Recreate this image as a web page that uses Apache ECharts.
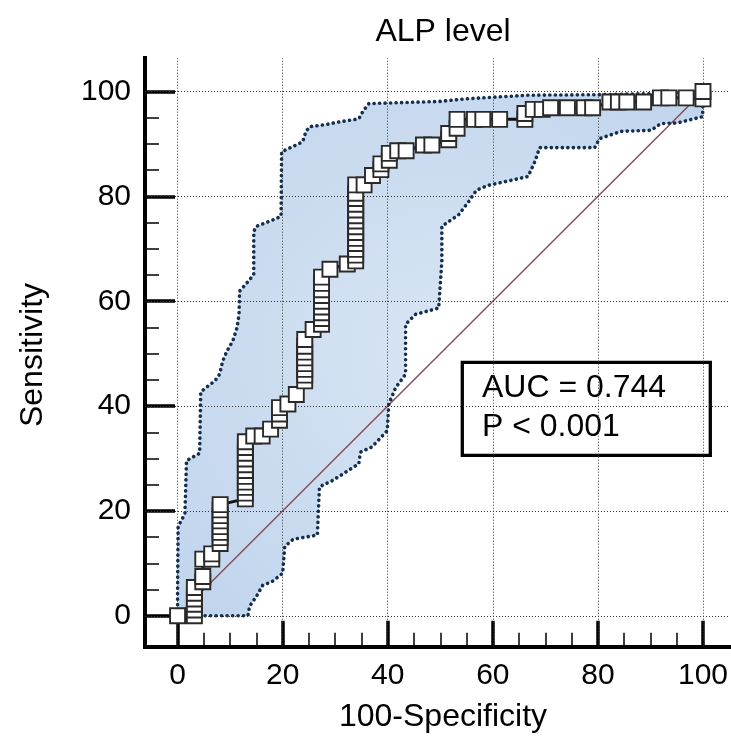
<!DOCTYPE html>
<html>
<head>
<meta charset="utf-8">
<script src="https://cdn.jsdelivr.net/npm/echarts@6/dist/echarts.min.js"></script>
<style>
html,body{margin:0;padding:0;background:#fff;}
#chart{width:731px;height:740px;}
</style>
</head>
<body>
<div id="chart"></div>
<script>
// ---- data ----
var titleText = 'ALP level';
var xName = '100-Specificity';
var yName = 'Sensitivity';
var aucLines = ['AUC = 0.744', 'P < 0.001'];

var xMajorTicks = [0, 20, 40, 60, 80, 100];
var xMinorTicks = [5, 10, 15, 25, 30, 35, 45, 50, 55, 65, 70, 75, 85, 90, 95];
var yMajorTicks = [0, 20, 40, 60, 80, 100];
var yMinorTicks = [5, 10, 15, 25, 30, 35, 45, 50, 55, 65, 70, 75, 85, 90, 95];

// ROC curve points [100-specificity, sensitivity]
var rocPoints = [
  [0, 0],
  [3.2, 0], [3.2, 1.1], [3.2, 2.2], [3.2, 3.2], [3.2, 4.3], [3.2, 5.4],
  [4.8, 6.5], [4.8, 7.5], [4.8, 10.8],
  [6.5, 10.8], [6.5, 11.8],
  [8.1, 13.8], [8.1, 14.9], [8.1, 15.9], [8.1, 17.0], [8.1, 18.1], [8.1, 19.1], [8.1, 20.2], [8.1, 21.2],
  [12.9, 22.3], [12.9, 23.4], [12.9, 24.5], [12.9, 25.5], [12.9, 26.6], [12.9, 27.7], [12.9, 28.8], [12.9, 29.9], [12.9, 31.0], [12.9, 32.1], [12.9, 33.2],
  [14.5, 34.3], [16.1, 34.3], [17.7, 35.6],
  [19.4, 37.3], [19.4, 38.5], [19.4, 39.7],
  [21.0, 40.4], [22.6, 42.2],
  [24.2, 44.8], [24.2, 45.9], [24.2, 47.0], [24.2, 48.1], [24.2, 49.2], [24.2, 50.3], [24.2, 51.4], [24.2, 52.7],
  [25.8, 54.6],
  [27.4, 55.6], [27.4, 56.7], [27.4, 57.8], [27.4, 58.9], [27.4, 60.0], [27.4, 61.1], [27.4, 62.2], [27.4, 63.4], [27.4, 64.6],
  [29.0, 66.1], [32.3, 67.1],
  [33.9, 67.7], [33.9, 68.8], [33.9, 69.9], [33.9, 71.0], [33.9, 72.0], [33.9, 73.1], [33.9, 74.2], [33.9, 75.3], [33.9, 76.3], [33.9, 77.4], [33.9, 78.5], [33.9, 79.6], [33.9, 80.6], [33.9, 82.2],
  [35.5, 82.2], [37.1, 84.0],
  [38.7, 85.1], [38.7, 86.2],
  [40.3, 86.9], [40.3, 88.2],
  [41.9, 88.7], [43.5, 88.7],
  [46.8, 89.8], [48.4, 89.8],
  [51.6, 90.8], [51.6, 92.0],
  [53.2, 93.0], [53.2, 94.7],
  [56.5, 94.7], [58.1, 94.7], [61.3, 94.7],
  [66.1, 94.7], [66.1, 95.8],
  [67.7, 96.6], [69.4, 96.6], [71.0, 96.9], [74.2, 96.9], [77.4, 96.9], [79.0, 96.9],
  [82.3, 98.0], [83.9, 98.0], [85.5, 98.0], [88.7, 98.0],
  [91.9, 98.8], [93.5, 98.8], [96.8, 98.8],
  [100, 98.6], [100, 100]
];

// upper 95% confidence bound
var upperBand = [
  [0, 0], [0, 5], [0.1, 17.0], [1.4, 19.5], [1.7, 29.6], [4.2, 31.0], [4.4, 42.7], [5.5, 43.6],
  [7.1, 44.8], [8.0, 46.1], [8.6, 48.6], [9.4, 50.5], [10.5, 52.4], [11.3, 54.9], [11.7, 57.5],
  [11.8, 61.9], [13.7, 64.1], [14.5, 65.1], [14.5, 73.3], [15.0, 74.3], [18.1, 75.5], [19.7, 76.2],
  [19.8, 88.5], [21.9, 89.5], [23.8, 90.4], [24.4, 92.3], [25.1, 93.3], [28.2, 93.7], [30.7, 94.2],
  [34.5, 94.8], [35.2, 96.1], [36.4, 97.7], [49.7, 98.1], [54.7, 98.6], [59.8, 98.9], [66.7, 99.3],
  [80, 99.4], [90, 99.6], [100, 100]
];

// lower 95% confidence bound
var lowerBand = [
  [0, 0], [13.4, 0], [13.7, 1.8], [15.0, 3.7], [16.2, 5.8], [18.1, 6.6], [20.0, 8.1], [20.4, 13.2],
  [22.0, 14.6], [26.6, 15.4], [27.0, 24.6], [29.5, 25.8], [34.5, 29.0], [34.8, 31.2], [37.0, 32.2],
  [39.9, 35.3], [40.2, 40.4], [41.5, 43.5], [43.4, 46.1], [43.4, 55.6], [45.3, 57.5], [49.7, 58.7],
  [50.3, 67.6], [50.3, 74.3], [53.5, 76.5], [55.4, 79.0], [56.9, 81.2], [59.1, 82.1], [62.3, 82.8],
  [66.7, 83.8], [68.0, 86.6], [68.9, 89.3], [79.4, 89.3], [80.3, 91.0], [84.4, 92.4], [90.1, 92.6],
  [92.0, 93.9], [95.1, 94.0], [98.3, 94.8], [99.9, 95.2], [100, 97.0], [100, 100]
];

var diagonal = [[0, 0], [100, 100]];

// ---- chart ----
var FONT = '"Liberation Sans", Arial, sans-serif';
var chart = echarts.init(document.getElementById('chart'), null, {renderer: 'canvas'});

var gridLineData = xMajorTicks.map(function (v) { return {xAxis: v}; })
  .concat(yMajorTicks.map(function (v) { return {yAxis: v}; }));

var bandFill = new echarts.graphic.RadialGradient(0.5, 0.5, 0.75, [
  {offset: 0, color: 'rgba(100,150,210,0.25)'},
  {offset: 1, color: 'rgba(100,150,210,0.42)'}
]);

function majorAxis(pos, min, max, ticks, tickLen) {
  return {
    type: 'value', position: pos, min: min, max: max,
    axisLine: {show: true, onZero: false, lineStyle: {color: '#000', width: 4, cap: 'square'}},
    axisTick: {show: true, inside: true, length: tickLen, customValues: ticks,
      lineStyle: {color: '#000', width: 3.5}},
    axisLabel: {show: true, customValues: ticks, margin: 14, color: '#000',
      fontSize: 30, fontFamily: FONT},
    splitLine: {show: false}
  };
}
function minorAxis(pos, min, max, ticks) {
  return {
    type: 'value', position: pos, min: min, max: max,
    axisLine: {show: false, onZero: false},
    axisTick: {show: true, inside: true, length: 14, customValues: ticks,
      lineStyle: {color: '#000', width: 1.5}},
    axisLabel: {show: false},
    splitLine: {show: false}
  };
}

var option = {
  animation: false,
  backgroundColor: '#fff',
  grid: {left: 145, right: 0, top: 58, bottom: 93.3, containLabel: false},
  xAxis: [
    majorAxis('bottom', -6.2, 105, xMajorTicks, 26),
    minorAxis('bottom', -6.2, 105, xMinorTicks)
  ],
  yAxis: [
    majorAxis('left', -5.9, 106.4, yMajorTicks, 30),
    minorAxis('left', -5.9, 106.4, yMinorTicks)
  ],
  graphic: [
    {type: 'text', x: 443, y: 32, style: {text: titleText, font: '32px ' + FONT, fill: '#000',
      align: 'center', verticalAlign: 'middle', textAlign: 'center', textVerticalAlign: 'middle'}},
    {type: 'text', x: 443, y: 717, style: {text: xName, font: '32px ' + FONT, fill: '#000',
      align: 'center', verticalAlign: 'middle', textAlign: 'center', textVerticalAlign: 'middle'}},
    {type: 'text', x: 33, y: 355, rotation: Math.PI / 2, style: {text: yName, font: '32px ' + FONT, fill: '#000',
      align: 'center', verticalAlign: 'middle', textAlign: 'center', textVerticalAlign: 'middle'}},
    {type: 'group', z: 100, children: [
      {type: 'rect', shape: {x: 462.3, y: 362.3, width: 248, height: 93},
        style: {fill: '#fff', stroke: '#000', lineWidth: 3.3}},
      {type: 'text', x: 482, y: 388.5, style: {text: aucLines[0], font: '32px ' + FONT, fill: '#000',
        align: 'left', verticalAlign: 'middle', textAlign: 'left', textVerticalAlign: 'middle'}},
      {type: 'text', x: 482, y: 427.5, style: {text: aucLines[1], font: '32px ' + FONT, fill: '#000',
        align: 'left', verticalAlign: 'middle', textAlign: 'left', textVerticalAlign: 'middle'}}
    ]}
  ],
  series: [
    {
      type: 'custom', z: 1, silent: true, xAxisIndex: 0, yAxisIndex: 0,
      data: [[0, 0]],
      renderItem: function (params, api) {
        var pts = upperBand.map(function (p) { return api.coord(p); })
          .concat(lowerBand.slice().reverse().map(function (p) { return api.coord(p); }));
        return {type: 'polygon', shape: {points: pts}, style: {fill: bandFill}};
      }
    },
    {
      type: 'line', z: 2, silent: true, xAxisIndex: 0, yAxisIndex: 0,
      data: diagonal, symbol: 'none',
      lineStyle: {color: '#85505a', width: 1.5},
      markLine: {
        silent: true, symbol: ['none', 'none'], label: {show: false},
        lineStyle: {color: '#333', width: 1, type: [1, 2]},
        data: gridLineData
      }
    },
    {
      type: 'line', z: 3, silent: true, xAxisIndex: 0, yAxisIndex: 0,
      data: upperBand, symbol: 'none',
      lineStyle: {color: '#132e4e', width: 3.6, type: [0.1, 5.4], cap: 'round'}
    },
    {
      type: 'line', z: 3, silent: true, xAxisIndex: 0, yAxisIndex: 0,
      data: lowerBand, symbol: 'none',
      lineStyle: {color: '#132e4e', width: 3.6, type: [0.1, 5.4], cap: 'round'}
    },
    {
      type: 'line', z: 5, silent: true, xAxisIndex: 0, yAxisIndex: 0,
      data: rocPoints, showAllSymbol: true, symbol: 'rect', symbolSize: 15,
      lineStyle: {color: '#111', width: 3},
      itemStyle: {color: '#fff', borderColor: '#2a2a2a', borderWidth: 1.9}
    }
  ]
};
chart.setOption(option);
</script>
</body>
</html>
